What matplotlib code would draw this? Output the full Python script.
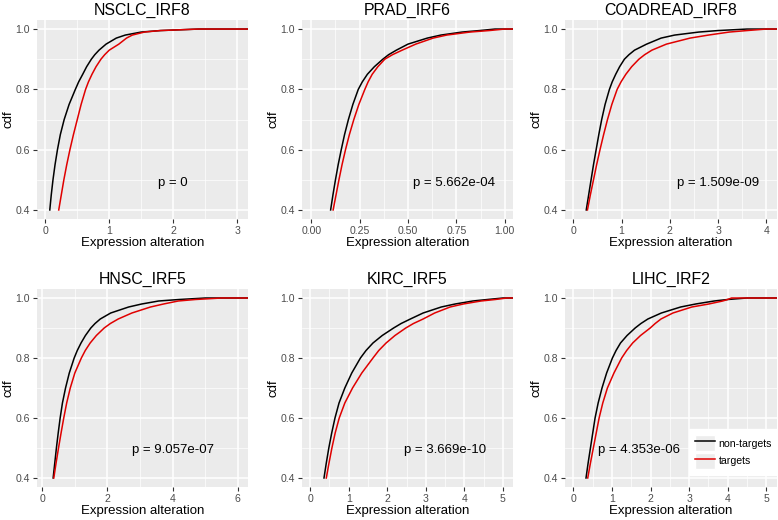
import matplotlib
matplotlib.use("Agg")
import matplotlib.pyplot as plt
from matplotlib.lines import Line2D
from matplotlib.patches import Patch
from matplotlib.legend_handler import HandlerTuple

plt.rcParams['font.family'] = ['Liberation Sans', 'DejaVu Sans']

# niveis de cdf comuns a todas as curvas
cdf_levels = [0.40, 0.45, 0.50, 0.55, 0.60, 0.65, 0.70, 0.75, 0.80, 0.825, 0.85,
              0.875, 0.90, 0.915, 0.93, 0.95, 0.97, 0.98, 0.99, 0.995, 1.00]

titles = ['NSCLC_IRF8', 'PRAD_IRF6', 'COADREAD_IRF8', 'HNSC_IRF5', 'KIRC_IRF5', 'LIHC_IRF2']
p_labels = ['p = 0', 'p = 5.662e-04', 'p = 1.509e-09', 'p = 9.057e-07', 'p = 3.669e-10', 'p = 4.353e-06']

# valores de "Expression alteration" em cada nivel de cdf
nontarget_x = [
    [0.07, 0.093, 0.12, 0.152, 0.19, 0.235, 0.295, 0.372, 0.47, 0.522, 0.585,
     0.646, 0.72, 0.774, 0.84, 0.95, 1.11, 1.25, 1.50, 1.80, 2.4],
    [0.10, 0.112, 0.125, 0.139, 0.155, 0.172, 0.192, 0.215, 0.243, 0.264, 0.29,
     0.326, 0.37, 0.40, 0.44, 0.50, 0.60, 0.67, 0.78, 0.87, 0.95],
    [0.27, 0.32, 0.37, 0.42, 0.475, 0.53, 0.59, 0.66, 0.75, 0.808, 0.88,
     0.961, 1.06, 1.155, 1.27, 1.52, 1.82, 2.10, 2.60, 3.0, 3.6],
    [0.335, 0.385, 0.435, 0.49, 0.55, 0.62, 0.715, 0.83, 0.98, 1.075, 1.19,
     1.325, 1.49, 1.62, 1.78, 2.10, 2.65, 3.05, 3.57, 4.2, 5.0],
    [0.36, 0.42, 0.485, 0.56, 0.645, 0.75, 0.90, 1.08, 1.305, 1.45, 1.63,
     1.87, 2.165, 2.36, 2.60, 2.93, 3.40, 3.76, 4.22, 4.6, 5.0],
    [0.325, 0.38, 0.44, 0.50, 0.56, 0.64, 0.74, 0.86, 1.01, 1.105, 1.22,
     1.39, 1.60, 1.75, 1.93, 2.28, 2.78, 3.17, 3.65, 4.0, 4.5],
]
target_x = [
    [0.21, 0.25, 0.29, 0.335, 0.385, 0.44, 0.50, 0.56, 0.63, 0.675, 0.73,
     0.793, 0.87, 0.929, 1.00, 1.15, 1.27, 1.36, 1.55, 1.80, 2.4],
    [0.113, 0.128, 0.143, 0.159, 0.177, 0.197, 0.22, 0.246, 0.277, 0.294, 0.315,
     0.344, 0.38, 0.42, 0.47, 0.54, 0.63, 0.70, 0.82, 0.92, 1.0],
    [0.295, 0.355, 0.42, 0.485, 0.555, 0.63, 0.71, 0.80, 0.91, 0.991, 1.09,
     1.21, 1.36, 1.48, 1.63, 1.93, 2.42, 2.80, 3.23, 3.6, 4.0],
    [0.355, 0.425, 0.50, 0.578, 0.66, 0.75, 0.86, 1.00, 1.20, 1.32, 1.47,
     1.66, 1.90, 2.09, 2.33, 2.75, 3.32, 3.72, 4.17, 4.7, 5.5],
    [0.42, 0.49, 0.565, 0.65, 0.755, 0.90, 1.10, 1.34, 1.63, 1.78, 1.97,
     2.20, 2.48, 2.68, 2.93, 3.23, 3.63, 3.97, 4.43, 4.8, 5.1],
    [0.37, 0.44, 0.515, 0.59, 0.665, 0.76, 0.88, 1.05, 1.25, 1.38, 1.535,
     1.74, 1.99, 2.12, 2.27, 2.58, 3.07, 3.51, 3.87, 4.0, 4.1],
]

x_ticks = [[0, 1, 2, 3], [0, 0.25, 0.5, 0.75, 1.0], [0, 1, 2, 3, 4],
           [0, 2, 4, 6], [0, 1, 2, 3, 4, 5], [0, 1, 2, 3, 4, 5]]
x_ticklabels = [['0', '1', '2', '3'], ['0.00', '0.25', '0.50', '0.75', '1.00'],
                ['0', '1', '2', '3', '4'], ['0', '2', '4', '6'],
                ['0', '1', '2', '3', '4', '5'], ['0', '1', '2', '3', '4', '5']]
y_ticks = [0.4, 0.6, 0.8, 1.0]

# layout
x_limits = [(-0.13, 3.17), (-0.048, 1.043), (-0.17, 4.22),
            (-0.16, 6.31), (-0.21, 5.26), (-0.22, 5.28)]
p_pos = [(2.0, 0.49), (0.74, 0.49), (3.0, 0.49), (4.0, 0.495), (3.5, 0.495), (1.7, 0.495)]

W, H = 778, 520
col_px = [(37, 248), (302, 513), (565, 777)]
row_px = [(20, 219), (289, 487)]

fig = plt.figure(figsize=(W / 100, H / 100), dpi=100)

axes = []
for i in range(6):
    r, c = divmod(i, 3)
    l, rgt = col_px[c]
    t, b = row_px[r]
    ax = fig.add_axes([l / W, 1 - b / H, (rgt - l) / W, (b - t) / H])
    axes.append(ax)

    ax.set_facecolor('#EBEBEB')
    for s in ax.spines.values():
        s.set_visible(False)

    ax.set_xlim(*x_limits[i])
    ax.set_ylim(0.37, 1.03)
    xt = x_ticks[i]
    ax.set_xticks(xt)
    ax.set_xticklabels(x_ticklabels[i])
    ax.set_xticks([(a + b2) / 2 for a, b2 in zip(xt[:-1], xt[1:])], minor=True)
    ax.set_yticks(y_ticks)
    ax.set_yticklabels([f'{v:.1f}' for v in y_ticks])
    ax.set_yticks([0.5, 0.7, 0.9], minor=True)

    ax.grid(which='major', color='white', linewidth=1.1)
    ax.grid(which='minor', color='white', linewidth=0.5)
    ax.set_axisbelow(True)
    ax.tick_params(which='major', length=3, width=0.8, color='#333333',
                   labelcolor='#4D4D4D', labelsize=7.6, pad=2)
    ax.tick_params(which='minor', length=0)

    xmax = ax.get_xlim()[1]
    ax.plot(nontarget_x[i] + [xmax], cdf_levels + [1.0], color='black', lw=1.1,
            solid_joinstyle='round')
    ax.plot(target_x[i] + [xmax], cdf_levels + [1.0], color='#E00000', lw=1.1,
            solid_joinstyle='round')

    ax.text(p_pos[i][0], p_pos[i][1], p_labels[i], ha='center', va='center',
            fontsize=9.5, color='black')

    ax.set_title(titles[i], fontsize=11.4, pad=4)
    ax.set_xlabel('Expression alteration', fontsize=9.5, labelpad=1)
    ax.set_ylabel('cdf', fontsize=9.5, labelpad=1)

# legenda no ultimo painel
key = dict(facecolor='#EDEDED', edgecolor='white', linewidth=1)
handles = [(Patch(**key), Line2D([], [], color='black', lw=1.1)),
           (Patch(**key), Line2D([], [], color='#E00000', lw=1.1))]
leg = axes[5].legend(handles, ['non-targets', 'targets'],
                     handler_map={tuple: HandlerTuple(ndivide=1, pad=0)},
                     loc='lower left', bbox_to_anchor=(0.585, 0.06),
                     fontsize=7.6, frameon=True, fancybox=False,
                     handlelength=1.9, handleheight=1.9, handletextpad=0.3,
                     labelspacing=0.2, borderpad=0.6, borderaxespad=0)
leg.get_frame().set_facecolor('white')
leg.get_frame().set_edgecolor('white')
leg.get_frame().set_alpha(1)

fig.savefig('out.png', dpi=100)
